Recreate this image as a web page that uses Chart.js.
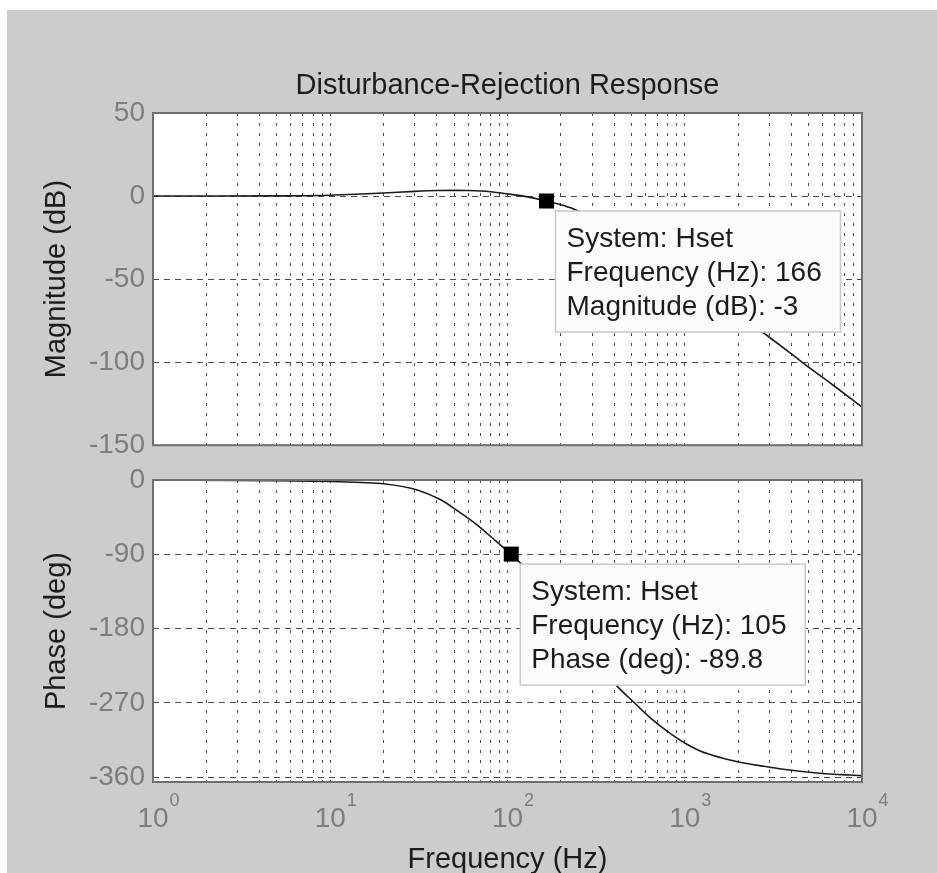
<!DOCTYPE html>
<html>
<head>
<meta charset="utf-8">
<script src="https://cdn.jsdelivr.net/npm/chart.js@4.4.0/dist/chart.umd.min.js"></script>
<style>
  html, body { margin: 0; padding: 0; background: #ffffff; }
  #frame { position: absolute; left: 7px; top: 10px; width: 930px; height: 863px; background: #cccccc; }
  canvas { position: absolute; left: 0; }
  #magChart { top: 0; }
  #phaseChart { top: 440px; }
</style>
</head>
<body>
<div id="frame"></div>
<canvas id="magChart" width="937" height="470"></canvas>
<canvas id="phaseChart" width="937" height="433"></canvas>
<script>
// magnitude curve (Hz, dB)
const magFreq = [1, 2, 5, 10, 15, 20, 30, 40, 50, 60, 80, 100, 130, 166, 200, 234, 300, 400, 500, 700, 1000, 1500, 2000, 2560, 3000, 4000, 5000, 7000, 10000];
const magDb = [0, 0, 0.1, 0.5, 1.2, 1.8, 2.8, 3.3, 3.4, 3.3, 2.6, 1.3, -0.5, -3, -5.2, -7.6, -13, -21, -28, -38.5, -50, -63.5, -73, -79.6, -85, -95, -103, -114.5, -127];

// phase curve (Hz, deg)
const phaseFreq = [1, 5, 10, 15, 20, 31, 42, 52, 67, 87, 105, 130, 160, 200, 250, 300, 350, 420, 520, 637, 791, 1000, 1220, 1600, 2050, 2800, 3590, 5570, 8530, 10000];
const phaseDeg = [-0.2, -0.8, -1.8, -3, -4.5, -12, -24, -37, -54, -75, -90, -110, -133, -161, -190, -213, -231, -251, -270, -288, -304, -318.8, -328.4, -336.5, -342, -347, -350.5, -355, -357.6, -358.3];

// data tips
const magTip = { freq: 166, value: -3 };
const phaseTip = { freq: 105, value: -89.8 };
const magTipText = ['System: Hset', 'Frequency (Hz): 166', 'Magnitude (dB): -3'];
const phaseTipText = ['System: Hset', 'Frequency (Hz): 105', 'Phase (deg): -89.8'];

// ticks
const decades = [1, 10, 100, 1000, 10000];
const gridFreq = [];
for (let d = 0; d < 4; d++) {
  for (let m = 1; m < 10; m++) gridFreq.push(m * Math.pow(10, d));
}
gridFreq.push(10000);
const magTicks = [-150, -100, -50, 0, 50];
const phaseTicks = [-360, -270, -180, -90, 0];

const FONT = "'Liberation Sans', Arial, Helvetica, sans-serif";
const TICK_GRAY = '#7d7d7d';
const TEXT = '#1c1c1c';

const toPoints = (xs, ys) => xs.map((x, i) => ({ x: x, y: ys[i] }));

// white plot area + box around it
const plotBox = {
  id: 'plotBox',
  beforeDraw(chart) {
    const a = chart.chartArea;
    const ctx = chart.ctx;
    ctx.save();
    ctx.fillStyle = '#ffffff';
    ctx.fillRect(a.left, a.top, a.right - a.left, a.bottom - a.top);
    ctx.restore();
  },
  afterDatasetsDraw(chart) {
    const a = chart.chartArea;
    const ctx = chart.ctx;
    ctx.save();
    ctx.strokeStyle = '#6e6e6e';
    ctx.lineWidth = 2;
    ctx.strokeRect(a.left, a.top, a.right - a.left, a.bottom - a.top);
    ctx.restore();
  }
};

// title centred over the plot area, like MATLAB does
const plotTitle = {
  id: 'plotTitle',
  afterDraw(chart, args, opts) {
    if (!opts.text) return;
    const a = chart.chartArea;
    const ctx = chart.ctx;
    ctx.save();
    ctx.fillStyle = TEXT;
    ctx.font = '29px ' + FONT;
    ctx.textAlign = 'center';
    ctx.textBaseline = 'middle';
    ctx.fillText(opts.text, (a.left + a.right) / 2, a.top - 27);
    ctx.restore();
  }
};

// MATLAB style data tip box
const dataTip = {
  id: 'dataTip',
  afterDraw(chart, args, opts) {
    const x = chart.scales.x.getPixelForValue(opts.tip.freq);
    const y = chart.scales.y.getPixelForValue(opts.tip.value);
    const ctx = chart.ctx;
    const left = x + 9, top = y + 10, w = 285, h = 121;
    ctx.save();
    ctx.fillStyle = '#fbfbfb';
    ctx.strokeStyle = '#c9c9c9';
    ctx.lineWidth = 1.5;
    ctx.fillRect(left, top, w, h);
    ctx.strokeRect(left, top, w, h);
    ctx.fillStyle = TEXT;
    ctx.font = '28px ' + FONT;
    ctx.textBaseline = 'middle';
    ctx.textAlign = 'left';
    opts.lines.forEach((t, i) => ctx.fillText(t, left + 11, top + 28 + i * 34));
    ctx.restore();
  }
};

// 10^n labels under the phase plot
const decadeLabels = {
  id: 'decadeLabels',
  afterDraw(chart) {
    const sx = chart.scales.x;
    const ctx = chart.ctx;
    const base = chart.chartArea.bottom + 37;
    ctx.save();
    ctx.fillStyle = TICK_GRAY;
    ctx.textBaseline = 'middle';
    decades.forEach(v => {
      const x = sx.getPixelForValue(v);
      ctx.font = '28px ' + FONT;
      ctx.textAlign = 'center';
      ctx.fillText('10', x, base);
      const w = ctx.measureText('10').width;
      ctx.font = '18px ' + FONT;
      ctx.textAlign = 'left';
      ctx.fillText(String(Math.round(Math.log10(v))), x + w / 2 + 1, base - 18);
    });
    ctx.restore();
  }
};

const xAxis = (showTitle) => ({
  type: 'logarithmic',
  min: 1,
  max: 10000,
  afterBuildTicks: axis => { axis.ticks = gridFreq.map(v => ({ value: v })); },
  afterFit: axis => { axis.height = showTitle ? 91 : 0; },
  ticks: { display: false },
  grid: { color: '#4a4a4a', lineWidth: 1, drawTicks: false },
  border: { display: false, dash: [3, 7] },
  title: {
    display: showTitle,
    text: 'Frequency (Hz)',
    color: TEXT,
    font: { family: FONT, size: 29, lineHeight: 0.9 },
    padding: { top: 0, bottom: 0 }
  }
});

const yAxis = (title, min, max, tickVals) => ({
  type: 'linear',
  min: min,
  max: max,
  afterBuildTicks: axis => { axis.ticks = tickVals.map(v => ({ value: v })); },
  afterFit: axis => { axis.width = 113; },
  ticks: { color: TICK_GRAY, font: { family: FONT, size: 28 }, padding: 8 },
  grid: { color: '#4a4a4a', lineWidth: 1, drawTicks: false },
  border: { display: false, dash: [6, 5] },
  title: {
    display: true,
    text: title,
    color: TEXT,
    font: { family: FONT, size: 29 },
    padding: 0
  }
});

const curveStyle = {
  borderColor: '#1a1a1a',
  borderWidth: 1.6,
  pointRadius: 0,
  cubicInterpolationMode: 'monotone',
  fill: false
};

const tipStyle = {
  pointStyle: 'rect',
  pointRadius: 10.6,
  pointBackgroundColor: '#000000',
  pointBorderWidth: 0,
  showLine: false
};

new Chart(document.getElementById('magChart'), {
  type: 'line',
  data: {
    datasets: [
      Object.assign({ label: 'tip', data: [{ x: magTip.freq, y: magTip.value }] }, tipStyle),
      Object.assign({ label: 'Hset', data: toPoints(magFreq, magDb) }, curveStyle)
    ]
  },
  options: {
    responsive: false,
    animation: false,
    layout: { padding: { left: 40, top: 113, right: 75, bottom: 15 } },
    scales: {
      x: xAxis(false),
      y: yAxis('Magnitude (dB)', -150, 50, magTicks)
    },
    plugins: {
      legend: { display: false },
      tooltip: { enabled: false },
      plotTitle: { text: 'Disturbance-Rejection Response' },
      dataTip: { tip: magTip, lines: magTipText }
    }
  },
  plugins: [plotBox, plotTitle, dataTip]
});

new Chart(document.getElementById('phaseChart'), {
  type: 'line',
  data: {
    datasets: [
      Object.assign({ label: 'tip', data: [{ x: phaseTip.freq, y: phaseTip.value }] }, tipStyle),
      Object.assign({ label: 'Hset', data: toPoints(phaseFreq, phaseDeg) }, curveStyle)
    ]
  },
  options: {
    responsive: false,
    animation: false,
    layout: { padding: { left: 40, top: 40, right: 75, bottom: 0 } },
    scales: {
      x: xAxis(true),
      y: yAxis('Phase (deg)', -366, 0, phaseTicks)
    },
    plugins: {
      legend: { display: false },
      tooltip: { enabled: false },
      dataTip: { tip: phaseTip, lines: phaseTipText }
    }
  },
  plugins: [plotBox, dataTip, decadeLabels]
});
</script>
</body>
</html>
